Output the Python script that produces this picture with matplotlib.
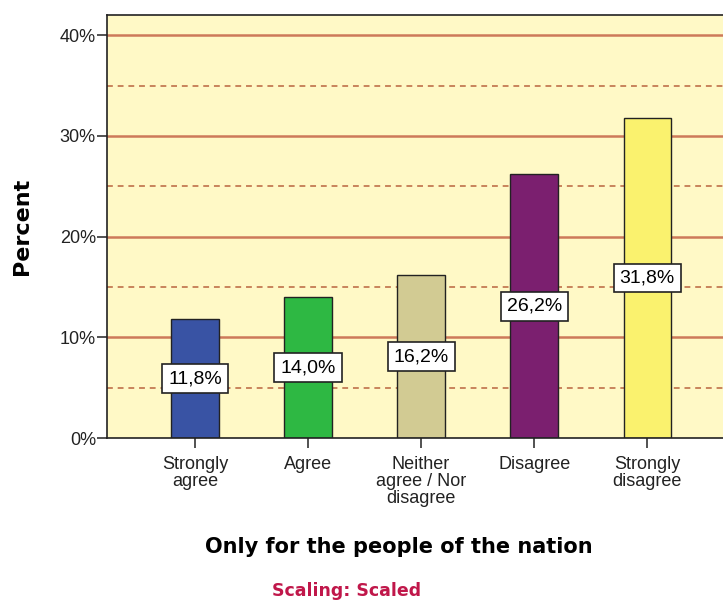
import matplotlib.pyplot as plt
import numpy as np

# data
categories = ['Strongly\nagree', 'Agree', 'Neither\nagree / Nor\ndisagree',
              'Disagree', 'Strongly\ndisagree']
percent = [11.8, 14.0, 16.2, 26.2, 31.8]
bar_colors = ['#3953a4', '#2eb843', '#d2cb93', '#7b1f6f', '#faf26e']
y_ticks = [0, 10, 20, 30, 40]

fig = plt.figure(figsize=(7.23, 6.02), dpi=100)
ax = fig.add_axes([0.148, 0.272, 0.86, 0.703])
ax.set_facecolor('#fff9c6')

x = np.arange(len(categories))

# grid lines: solid at 10s, dashed at 5s
for v in y_ticks[1:]:
    ax.axhline(v, color='#cd7a5a', lw=1.8, zorder=1)
for v in [5, 15, 25, 35]:
    ax.axhline(v, color='#c8845c', lw=1.4, ls=(0, (3, 2.5)), zorder=1)

ax.bar(x, percent, width=0.42, color=bar_colors, edgecolor='#222222',
       linewidth=1.0, zorder=2)

# value labels at half height
for xi, v in zip(x, percent):
    ax.text(xi, v / 2, f'{v:.1f}%'.replace('.', ','), ha='center', va='center',
            fontsize=14, family='Liberation Sans', zorder=3,
            bbox=dict(boxstyle='square,pad=0.3', fc='white', ec='#222222', lw=1.2))

ax.set_xlim(-0.777, 4.72)
ax.set_ylim(0, 42)
ax.set_yticks(y_ticks)
ax.set_yticklabels([f'{v}%' for v in y_ticks], fontsize=13, family='Liberation Sans',
                   color='#222222')
ax.set_xticks(x)
ax.set_xticklabels(categories, fontsize=13, family='Liberation Sans',
                   linespacing=0.98, color='#222222')
ax.tick_params(axis='both', length=7, width=1.2, color='#333333')
ax.tick_params(axis='y', pad=1)
ax.tick_params(axis='x', pad=6)

for s in ['left', 'top', 'bottom']:
    ax.spines[s].set_color('#222222')
    ax.spines[s].set_linewidth(1.2)
ax.spines['right'].set_visible(False)

ax.set_ylabel('Percent', fontsize=16, fontweight='bold', labelpad=20)
fig.text(0.552, 0.091, 'Only for the people of the nation', ha='center',
         va='center', fontsize=15, fontweight='bold')
fig.text(0.48, 0.018, 'Scaling: Scaled', ha='center', va='center',
         fontsize=12.5, fontweight='bold', color='#c0174a')

plt.savefig('out.png', dpi=100)
